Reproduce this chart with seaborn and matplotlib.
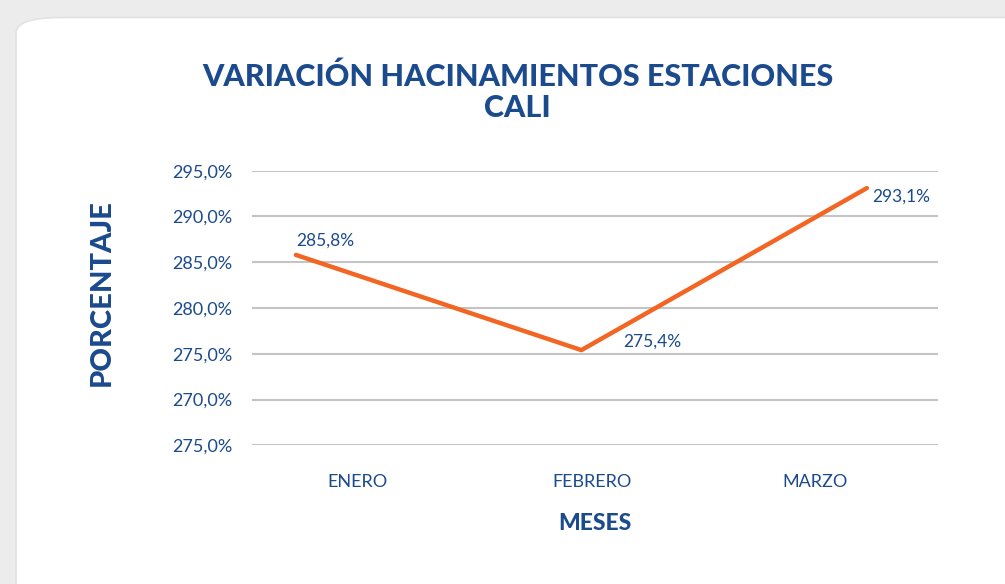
import pandas as pd
import seaborn as sns
import matplotlib.pyplot as plt
from matplotlib.patches import FancyBboxPatch

# Data
meses = ['ENERO', 'FEBRERO', 'MARZO']
porcentaje = [285.8, 275.4, 293.1]
etiquetas = ['285,8%', '275,4%', '293,1%']
y_ticks = [295, 290, 285, 280, 275, 270, 265]
y_tick_labels = ['295,0%', '290,0%', '285,0%', '280,0%', '275,0%', '270,0%', '275,0%']

azul = '#1b4a8d'
naranja = '#f26522'

sns.set_theme(style='white')
plt.rcParams['font.family'] = ['Lato', 'DejaVu Sans']

df = pd.DataFrame({'pos': range(len(meses)), 'mes': meses, 'valor': porcentaje})

fig = plt.figure(figsize=(10.05, 5.84), dpi=100)
fig.patch.set_facecolor('#ececec')

# white rounded card behind everything
card = FancyBboxPatch((0.016, -0.1), 1.1, 1.07, boxstyle='round,pad=0,rounding_size=0.045',
                      transform=fig.transFigure, facecolor='white', edgecolor='#e2e2e2',
                      linewidth=1.2, mutation_aspect=584 / 1005, zorder=-10)
fig.patches.append(card)

ax = fig.add_axes([0.2507, 0.2375, 0.6826, 0.4702])
ax.set_facecolor('none')

sns.lineplot(data=df, x='pos', y='valor', color=naranja, linewidth=3.2, ax=ax,
             solid_capstyle='round', zorder=3)

ax.set_ylim(265, 295)
ax.set_xlim(-0.154, 2.249)
ax.set_yticks(y_ticks)
ax.set_yticklabels(y_tick_labels)
ax.yaxis.grid(True, color='#c4c4c4', linewidth=1.5)
ax.set_xticks([0.217, 1.037, 1.82])
ax.set_xticklabels(meses)
ax.tick_params(axis='both', length=0, labelsize=13, labelcolor=azul)
ax.tick_params(axis='y', pad=14)
ax.tick_params(axis='x', pad=21)
for s in ax.spines.values():
    s.set_visible(False)

ax.set_xlabel('MESES', fontsize=16.5, fontweight='black', color=azul, labelpad=16)
ax.set_ylabel('PORCENTAJE', fontsize=21, fontweight='black', color=azul)
ax.yaxis.set_label_coords(-0.2, 0.558)

# data labels
offsets = [(0, 10), (30, 6), (4, -6)]
for x, y, lab, off in zip(df['pos'], df['valor'], etiquetas, offsets):
    ax.annotate(lab, (x, y), xytext=off, textcoords='offset points',
                ha='left', va='center', fontsize=12.5, color=azul)

fig.text(0.515, 0.842, 'VARIACIÓN HACINAMIENTOS ESTACIONES\nCALI', ha='center', va='center',
         fontsize=22, fontweight='black', color=azul, linespacing=1.15)

plt.savefig('out.png', dpi=100)
plt.close()
